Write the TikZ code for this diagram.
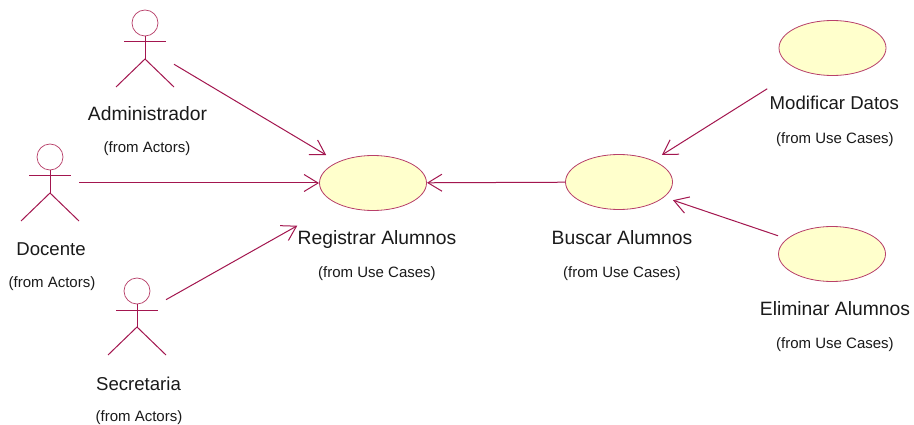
\documentclass[tikz,border=0pt]{standalone}
\usepackage{fontspec}
\setmainfont{Liberation Sans}
\usetikzlibrary{arrows.meta,shapes.geometric}
\definecolor{umlline}{HTML}{A3164F}
\definecolor{umlfill}{HTML}{FFFFCC}
\definecolor{umledge}{HTML}{B8406A}
\definecolor{umltext}{HTML}{1A1A1A}
\tikzset{
  usecase/.style={ellipse,draw=umledge,fill=umlfill,line width=0.8pt,minimum width=107pt,minimum height=55pt,inner sep=0pt},
  ubox/.style={rectangle,minimum width=108pt,minimum height=56pt,inner sep=0pt,outer sep=0pt},
  abox/.style={rectangle,minimum width=58pt,minimum height=74pt,inner sep=0pt,outer sep=0pt},
  figline/.style={draw=umlline,line width=1pt},
  headline/.style={draw=umledge,line width=0.7pt},
  assoc/.style={draw=umlline,line width=1pt,-{Straight Barb[length=14pt,width=17pt,line width=1pt]}},
  titlelabel/.style={text=umltext,font=\fontsize{19.3}{21}\selectfont,inner sep=0pt,text height=14pt,text depth=0pt},
  titlesmall/.style={titlelabel,font=\fontsize{18.6}{21}\selectfont},
  fromlabel/.style={text=umltext,font=\fontsize{15}{17}\selectfont,inner sep=0pt,text height=11pt,text depth=0pt}
}
\newcommand{\actorfig}[4]{%
  \node[abox] (#1) at (#2,#4) {};
  \draw[headline] (#2,#3) circle (13pt);
  \draw[figline] (#2,#3+13) -- (#2,#3+36);
  \draw[figline] (#2-21,#3+19) -- (#2+21,#3+19);
  \draw[figline] (#2-29,#3+64) -- (#2,#3+36) -- (#2+29,#3+64);
}
\begin{document}
\begin{tikzpicture}[x=1pt,y=-1pt]
\useasboundingbox[fill=white] (0,0) rectangle (914,425);
\actorfig{admin}{145}{23}{47}
\actorfig{doc}{50}{157}{183}
\actorfig{sec}{137}{291}{316}
\node[usecase] (regE) at (373,183) {};
\node[usecase] (busE) at (619,182) {};
\node[usecase] (modE) at (832.5,48) {};
\node[usecase] (eliE) at (832,254) {};
\node[ubox] (reg) at (373,183) {};
\node[ubox,minimum height=54pt] (bus) at (619,182) {};
\node[ubox] (mod) at (832,48) {};
\node[ubox] (eli) at (832,254) {};
\node[titlelabel] (t1) at (147.5,114) {Administrador};
\node[fromlabel] (f1) at (147,147) {(from Actors)};
\node[titlesmall] (t2) at (51,248) {Docente};
\node[fromlabel] (f2) at (52,282) {(from Actors)};
\node[titlesmall] (t3) at (138.5,383) {Secretaria};
\node[fromlabel] (f3) at (139,416) {(from Actors)};
\node[titlelabel] (t4) at (377,237) {Registrar Alumnos};
\node[fromlabel] (f4) at (377,272) {(from Use Cases)};
\node[titlelabel] (t5) at (622,237) {Buscar Alumnos};
\node[fromlabel] (f5) at (622,272) {(from Use Cases)};
\node[titlesmall] (t6) at (834.3,103) {Modificar Datos};
\node[fromlabel] (f6) at (835,138) {(from Use Cases)};
\node[titlelabel] (t7) at (835,309) {Eliminar Alumnos};
\node[fromlabel] (f7) at (835,343) {(from Use Cases)};
\draw[assoc] (admin) -- (reg);
\draw[assoc] (doc) -- (reg);
\draw[assoc,shorten >=30pt] (sec) -- (reg);
\draw[assoc] (bus) -- (reg);
\draw[assoc,shorten <=24pt] (mod) -- (bus);
\draw[assoc] (eli) -- (bus);
\end{tikzpicture}
\end{document}
